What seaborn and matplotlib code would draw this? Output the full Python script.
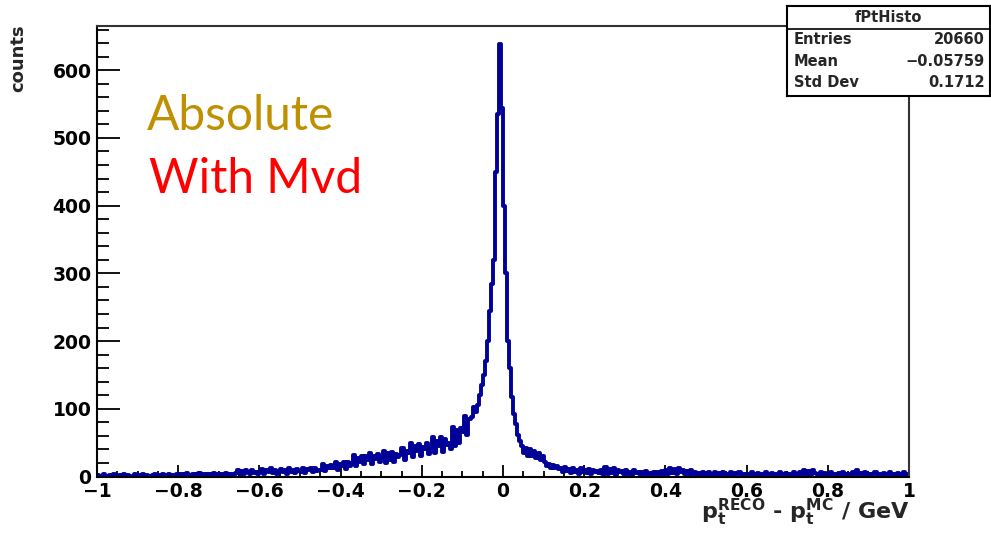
import numpy as np
import pandas as pd
import matplotlib
matplotlib.use("Agg")
import matplotlib.pyplot as plt
import seaborn as sns

# ---- data: counts per 0.005 bin, from -1 to 1 ----
x_min, x_max, n_bins = -1.0, 1.0, 400
seg_m100_m080 = [2,0,1,3,1,0,2,1,3,0, 1,2,0,3,1,2,0,1,4,1, 2,0,3,1,2,1,0,2,3,1, 2,1,4,0,2,3,1,2,0,3]
seg_m080_m066 = [2,4,1,3,5,2,1,4,2,3, 5,1,3,2,4,1,3,5,2,4, 1,3,2,5,3,1,4,2]
seg_m066_m060 = [5,9,3,8,4,10,6,3,9,5,7,4]
seg_m060_m050 = [6,11,4,9,7,12,5,10,3,8, 11,6,9,4,12,7,10,5,11,8]
seg_m050_m045 = [7,13,5,11,9,13,6,12,8,10]
seg_m045_m042 = [10,18,8,16,12,17]
seg_m042_m0375 = [12,22,9,19,15,21,11,22,16]
seg_m0375_m0335 = [20,32,16,28,22,31,18,30]
seg_m0335_m030 = [24,34,19,30,26,33,21]
seg_m030_m0255 = [28,37,20,34,25,36,22,33,29]
seg_m0255_m0235 = [32,42,24,38]
seg_m0235_m018 = [35,49,29,45,38,48,30,44,40,49,33]
seg_m018_m0125 = [42,59,34,52,45,58,36,55,47,50,40]
seg_m0125_m010 = [73,45,68,50,71]
seg_m010_m008 = [65,89,62,85]
seg_m008_m0065 = [88,103,95]
seg_peak_left = [105,120,135,150,170,200,245,285,320,450,535,638,544]
seg_peak_right = [400,300,200,160,117,93,78,62,52,45, 34,42,31,40,30,38,28,35,24,30]
seg_p010_p014 = [21,16,19,13,17,12,15,11]
seg_p014_p024 = [12,6,14,8,11,5,13,7,10,4, 12,6,9,5,11,4,10,6,8,5]
seg_p024_p029 = [10,4,14,3,11,5,13,2,9,6]
seg_p029_p034 = [8,3,10,4,7,2,9,5,6,3]
seg_p034_p040 = [6,2,8,3,5,1,7,4,6,2,8,3]
seg_p040_p045 = [9,4,13,5,11,3,12,6,10,4]
seg_p045_p048 = [8,3,10,4,7,2]
seg_p048_p060 = [5,1,7,2,4,6,1,3,7,2, 5,0,6,3,4,1,7,2,5,3, 6,1,4,2]
seg_p060_p073 = [4,1,6,2,3,5,0,4,2,6, 1,3,5,2,4,0,6,3,1,5, 2,4,1,6,3,2]
seg_p073_p077 = [7,3,9,4,8,2,9,5]
seg_p077_p086 = [4,1,6,2,5,0,3,6,1,4, 2,5,1,6,3,0,4,2]
seg_p086_p088 = [7,3,9,4]
seg_p088_p100 = [5,1,6,2,4,0,3,6,1,4, 2,5,0,3,6,1,4,2,5,1, 3,6,2,4]

x_ticks = [-1, -0.8, -0.6, -0.4, -0.2, 0, 0.2, 0.4, 0.6, 0.8, 1]
x_ticklabels = ["\u22121", "\u22120.8", "\u22120.6", "\u22120.4", "\u22120.2", "0",
                "0.2", "0.4", "0.6", "0.8", "1"]
y_ticks = [0, 100, 200, 300, 400, 500, 600]
stats_title = "fPtHisto"
stats_names = ["Entries", "Mean", "Std Dev"]
stats_values = ["20660", "\u22120.05759", "0.1712"]

counts = np.array(
    seg_m100_m080 + seg_m080_m066 + seg_m066_m060 + seg_m060_m050 + seg_m050_m045
    + seg_m045_m042 + seg_m042_m0375 + seg_m0375_m0335 + seg_m0335_m030
    + seg_m030_m0255 + seg_m0255_m0235 + seg_m0235_m018 + seg_m018_m0125
    + seg_m0125_m010 + seg_m010_m008 + seg_m008_m0065 + seg_peak_left
    + seg_peak_right + seg_p010_p014 + seg_p014_p024 + seg_p024_p029
    + seg_p029_p034 + seg_p034_p040 + seg_p040_p045 + seg_p045_p048
    + seg_p048_p060 + seg_p060_p073 + seg_p073_p077 + seg_p077_p086
    + seg_p086_p088 + seg_p088_p100, dtype=float)
bw = (x_max - x_min) / n_bins
centers = x_min + bw * (np.arange(n_bins) + 0.5)
df = pd.DataFrame({"dpt": centers, "n": counts})

# ---- figure ----
sns.set_style("white")
plt.rcParams["font.family"] = ["DejaVu Sans"]
plt.rcParams["mathtext.fontset"] = "dejavusans"
W, H = 991, 533
fig = plt.figure(figsize=(W / 100, H / 100), dpi=100)
L, R, T, B = 97, 909, 25.5, 476.5
ax = fig.add_axes([L / W, 1 - B / H, (R - L) / W, (B - T) / H])

sns.histplot(data=df, x="dpt", weights="n", binwidth=bw, binrange=(x_min, x_max),
             element="step", fill=False, color="#000099", linewidth=2.8, ax=ax)

ax.set_xlim(x_min, x_max)
ax.set_ylim(0, 666)
ax.set_xlabel("")
ax.set_ylabel("")
ax.set_xticks(x_ticks)
ax.set_xticklabels(x_ticklabels)
ax.set_yticks(y_ticks)
ax.set_xticks(np.arange(-1, 1.0001, 0.05), minor=True)
ax.set_yticks(np.arange(0, 661, 20), minor=True)
ax.tick_params(axis="both", which="both", direction="in", colors="black",
               labelsize=13.5, width=1.3, top=False, right=False,
               bottom=True, left=True)
ax.tick_params(axis="y", which="major", length=16.5, pad=4)
ax.tick_params(axis="y", which="minor", length=8.5)
ax.tick_params(axis="x", which="major", length=8.5, pad=4)
ax.tick_params(axis="x", which="minor", length=4.3)
for lab in ax.get_xticklabels() + ax.get_yticklabels():
    lab.set_fontweight("bold")
for side in ["left", "bottom", "top", "right"]:
    ax.spines[side].set_visible(True)
    ax.spines[side].set_color("black")
    ax.spines[side].set_linewidth(1.5)
ax.spines["top"].set_color("#333333")
ax.spines["right"].set_color("#333333")
ax.set_facecolor("white")
ax.grid(False)

# axis titles
fig.text(18 / W, 1 - 24 / H, "counts", rotation=90, ha="center", va="top",
         fontsize=13, fontweight="bold")
fig.text(910 / W, 1 - 512 / H,
         r"$\mathbf{p_t^{RECO}}$ - $\mathbf{p_t^{MC}}$ / GeV",
         ha="right", va="center", fontsize=16, fontweight="bold")

# overlay annotations
fig.text(147 / W, 1 - 130 / H, "Absolute", color="#BF9000", fontsize=34.5,
         family="Lato", ha="left", va="baseline")
fig.text(149 / W, 1 - 193 / H, "With Mvd", color="#FF0000", fontsize=34.5,
         family="Lato", ha="left", va="baseline")

# stats box
bx0, bx1, by0, by1, bsep = 787, 990, 5.5, 95.5, 29
sax = fig.add_axes([bx0 / W, 1 - by1 / H, (bx1 - bx0) / W, (by1 - by0) / H])
sax.set_xlim(bx0, bx1)
sax.set_ylim(by1, by0)
sax.set_facecolor("white")
for side in sax.spines.values():
    side.set_visible(True)
    side.set_color("black")
    side.set_linewidth(1.5)
sax.set_xticks([])
sax.set_yticks([])
sax.plot([bx0, bx1], [bsep, bsep], color="black", lw=1.2)
sax.text((bx0 + bx1) / 2, 17.5, stats_title, ha="center", va="center",
         fontsize=10.5, fontweight="bold")
row_y = [40, 61, 82]
for name, val, yy in zip(stats_names, stats_values, row_y):
    sax.text(bx0 + 7, yy, name, ha="left", va="center", fontsize=10.5,
             fontweight="bold")
    sax.text(bx1 - 5, yy, val, ha="right", va="center", fontsize=10.5,
             fontweight="bold")

fig.savefig("out.png", dpi=100, facecolor="white")
